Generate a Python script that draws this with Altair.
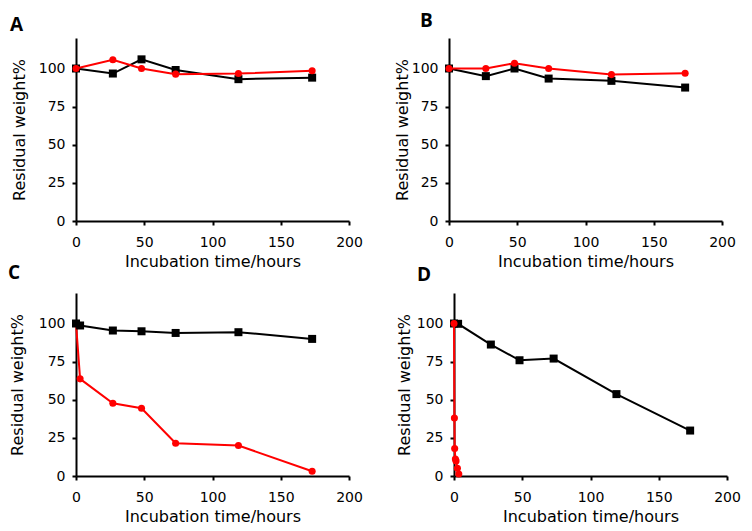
import altair as alt
import pandas as pd

# ---- data ----
t_six = [0, 27, 48, 73, 119, 173]
t_seven = [0, 3, 27, 48, 73, 119, 173]
t_fast = [0, 0.3, 0.5, 1, 1.5, 2.5, 3.5]

A_black = [100, 96.7, 106, 99, 93, 94]
A_red = [100, 105.7, 100, 96.3, 96.7, 98.5]

B_black = [100, 95, 100, 93.4, 91.9, 87.5]
B_red = [100, 100, 103.5, 100, 96, 96.9]

C_black = [100, 98.7, 95.4, 94.9, 93.8, 94.3, 89.9]
C_red = [100, 63.7, 47.7, 44.4, 21.5, 20, 3.1]

D_black = [100, 99.8, 86.2, 75.9, 77, 53.7, 29.8]
D_red = [100, 38, 18, 11.2, 9.9, 5.1, 1.3]

x_ticks = [0, 50, 100, 150, 200]
y_ticks = [0, 25, 50, 75, 100]

RED = "#ff0000"
BLACK = "#000000"
FONT = "DejaVu Sans"


def frame(t, w):
    return pd.DataFrame({"t": t, "w": w})


def panel(letter, tb, wb, tr, wr, red_top, title_dx, title_offset, ytpad):
    xenc = alt.X(
        "t:Q",
        scale=alt.Scale(domain=[0, 200], nice=False),
        axis=alt.Axis(values=x_ticks, title="Incubation time/hours",
                      labelPadding=10, titlePadding=4, labelFlush=False),
    )
    yenc = alt.Y(
        "w:Q",
        scale=alt.Scale(domain=[0, 120], nice=False),
        axis=alt.Axis(values=y_ticks, title="Residual weight%",
                      labelPadding=7, titlePadding=ytpad, labelFlush=False),
    )
    db = frame(tb, wb)
    dr = frame(tr, wr)
    black = [
        alt.Chart(db).mark_line(color=BLACK, strokeWidth=2).encode(x=xenc, y=yenc),
        alt.Chart(db).mark_point(shape="square", filled=True, size=64, color=BLACK, opacity=1).encode(x=xenc, y=yenc),
    ]
    red = [
        alt.Chart(dr).mark_line(color=RED, strokeWidth=2).encode(x=xenc, y=yenc),
        alt.Chart(dr).mark_point(shape="circle", filled=True, size=50, color=RED, opacity=1).encode(x=xenc, y=yenc),
    ]
    layers = black + red if red_top else red + black
    return alt.layer(*layers).properties(
        width=273, height=183,
        title=alt.TitleParams(letter, anchor="start", frame="group", dx=title_dx,
                              offset=title_offset, font="Open Sans", fontSize=19,
                              fontWeight="bold", color=BLACK),
    )


pA = panel("A", t_six, A_black, t_six, A_red, True, -66, 3, 11)
pB = panel("B", t_six, B_black, t_six, B_red, True, -29, 7, 1)
pC = panel("C", t_seven, C_black, t_seven, C_red, False, -68, 10, 13)
pD = panel("D", t_seven, D_black, t_fast, D_red, True, -37, 8, 4)

row1 = alt.hconcat(pA, pB, spacing=31)
row2 = alt.hconcat(pC, pD, spacing=33)
chart = alt.vconcat(row1, row2, spacing=-5).properties(
    padding={"left": 0, "top": 4, "right": 0, "bottom": 0}
).configure_view(stroke=None).configure_axis(
    domainColor=BLACK, domainWidth=2, tickColor=BLACK, tickWidth=2, tickSize=4,
    grid=False, labelFont=FONT, labelFontSize=14, labelColor=BLACK,
    titleFont=FONT, titleFontSize=16, titleFontWeight="normal", titleColor=BLACK,
)

chart.save("out.html", embed_options={"renderer": "svg", "actions": False})
